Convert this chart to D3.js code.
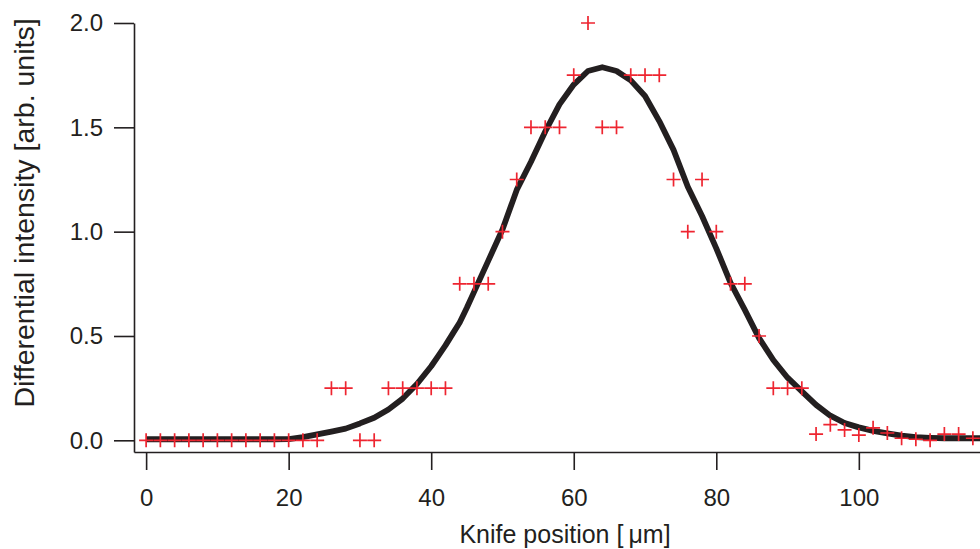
<!DOCTYPE html>
<html>
<head>
<meta charset="utf-8">
<script src="https://cdn.jsdelivr.net/npm/d3@7"></script>
<style>
  body { margin: 0; background: #fff; }
  svg { display: block; }
  .axis path, .axis line { stroke: #231f20; stroke-width: 1.6px; }
  .axis text { fill: #231f20; font-family: "Liberation Sans", Arial, sans-serif; font-size: 24px; }
  .title { fill: #231f20; font-family: "Liberation Sans", Arial, sans-serif; }
</style>
</head>
<body>
<div id="chart"></div>
<script>

// measured points (knife position, differential intensity)
var pointX = [0, 2, 4, 6, 8, 10, 12, 14, 16, 18, 20, 22, 24, 26, 28, 30, 32, 34, 36, 38,
              40, 42, 44, 46, 48, 50, 52, 54, 56, 58, 60, 62, 64, 66, 68, 70, 72, 74, 76, 78,
              80, 82, 84, 86, 88, 90, 92, 94, 96, 98, 100, 102, 104, 106, 108, 110, 112, 114, 116];
var pointY = [0, 0, 0, 0, 0, 0, 0, 0, 0, 0, 0, 0, 0, 0.25, 0.25, 0, 0, 0.25, 0.25, 0.25,
              0.25, 0.25, 0.75, 0.75, 0.75, 1.0, 1.25, 1.5, 1.5, 1.5, 1.75, 2.0, 1.5, 1.5, 1.75, 1.75, 1.75, 1.25, 1.0, 1.25,
              1.0, 0.75, 0.75, 0.5, 0.25, 0.25, 0.25, 0.03, 0.075, 0.05, 0.025, 0.06, 0.035, 0.01, 0.005, 0, 0.03, 0.03, 0.01];

// fitted curve
var fitX = [0, 4, 8, 12, 16, 18, 20, 22, 24, 26, 28, 30, 32, 34, 36, 38, 40, 41, 42, 43, 44, 45, 46, 48,
            50, 52, 54, 56, 58, 60, 62, 64, 66, 68, 70, 72, 74, 76, 78, 80, 82, 84, 86, 88,
            90, 92, 94, 96, 98, 100, 102, 104, 106, 108, 110, 112, 114, 117];
var fitY = [0.005, 0.005, 0.005, 0.005, 0.005, 0.005, 0.006, 0.015, 0.028, 0.042, 0.056, 0.081, 0.108, 0.148, 0.2, 0.27, 0.355, 0.405, 0.455, 0.51, 0.565, 0.635, 0.71, 0.86,
            1.01, 1.2, 1.335, 1.48, 1.61, 1.705, 1.77, 1.788, 1.77, 1.725, 1.65, 1.53, 1.392, 1.215, 1.075, 0.92, 0.755, 0.625, 0.49, 0.385,
            0.3, 0.235, 0.17, 0.118, 0.083, 0.062, 0.045, 0.033, 0.022, 0.015, 0.012, 0.01, 0.01, 0.01];

var xTicks = [0, 20, 40, 60, 80, 100];
var yTicks = [0, 0.5, 1.0, 1.5, 2.0];

var width = 980, height = 549;

var svg = d3.select("#chart")
  .append("svg")
    .attr("width", width)
    .attr("height", height);

// scales (axes are offset from the data origin, Igor style)
var x = d3.scaleLinear()
  .domain([-1.7, 117])
  .range([134, 980]);

var y = d3.scaleLinear()
  .domain([-0.056, 2.0])
  .range([452, 23]);

// y axis
svg.append("g")
  .attr("class", "axis")
  .attr("transform", "translate(134,0)")
  .call(d3.axisLeft(y).tickValues(yTicks).tickFormat(d3.format(".1f"))
    .tickSize(20).tickSizeOuter(0).tickPadding(11));

// x axis
svg.append("g")
  .attr("class", "axis")
  .attr("transform", "translate(0,452)")
  .call(d3.axisBottom(x).tickValues(xTicks).tickFormat(d3.format("d"))
    .tickSize(18).tickSizeOuter(0).tickPadding(19));

// fitted curve
var line = d3.line()
  .x(function(d, i) { return x(fitX[i]); })
  .y(function(d) { return y(d); });

svg.append("path")
  .datum(fitY)
  .attr("d", line)
  .attr("fill", "none")
  .attr("stroke", "#231f20")
  .attr("stroke-width", 5.8)
  .attr("stroke-linejoin", "round");

// data markers
svg.selectAll(".pt")
  .data(pointY)
  .enter().append("path")
    .attr("class", "pt")
    .attr("transform", function(d, i) { return "translate(" + x(pointX[i]) + "," + y(d) + ")"; })
    .attr("d", "M-7,0H7M0,-7V7")
    .attr("stroke", "#ee2530")
    .attr("stroke-width", 1.7)
    .attr("fill", "none");

// axis titles
svg.append("text")
  .attr("class", "title")
  .attr("x", 565)
  .attr("y", 543)
  .attr("text-anchor", "middle")
  .style("font-size", "25px")
  .text("Knife position [\u2009\u03bcm]");

svg.append("text")
  .attr("class", "title")
  .attr("transform", "translate(34,213) rotate(-90)")
  .attr("text-anchor", "middle")
  .style("font-size", "28.5px")
  .text("Differential intensity [arb. units]");

</script>
</body>
</html>
